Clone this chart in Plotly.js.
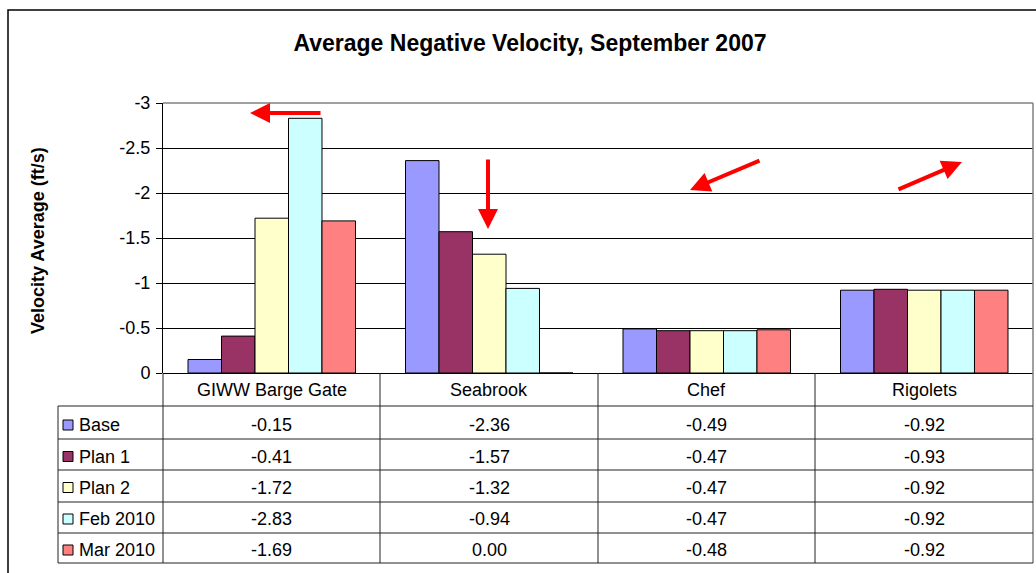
<!DOCTYPE html>
<html>
<head>
<meta charset="utf-8">
<script src="https://cdn.plot.ly/plotly-3.0.1.min.js"></script>
<style>
html,body{margin:0;padding:0;background:#fff;}
#chart{width:1036px;height:573px;}
</style>
</head>
<body>
<div id="chart"></div>
<script>
// ---- data ----
var categories = ['GIWW Barge Gate', 'Seabrook', 'Chef', 'Rigolets'];
var seriesNames = ['Base', 'Plan 1', 'Plan 2', 'Feb 2010', 'Mar 2010'];
var base    = [-0.15, -2.36, -0.49, -0.92];
var plan1   = [-0.41, -1.57, -0.47, -0.93];
var plan2   = [-1.72, -1.32, -0.47, -0.92];
var feb2010 = [-2.83, -0.94, -0.47, -0.92];
var mar2010 = [-1.69,  0.00, -0.48, -0.92];
var yTickVals = [0, -0.5, -1, -1.5, -2, -2.5, -3];
var yTickText = ['0', '-0.5', '-1', '-1.5', '-2', '-2.5', '-3'];

var seriesValues = [base, plan1, plan2, feb2010, mar2010];
var colors = ['#9999FF', '#993366', '#FFFFCC', '#CCFFFF', '#FF8080'];

// ---- geometry helpers (pixel -> paper) ----
var L = 163, T = 103, W = 870, H = 270;
function px(p) { return (p - L) / W; }
function py(p) { return (T + H - p) / H; }

var FONT = 'Liberation Sans, Arial, sans-serif';
var FS = 18;

var traces = seriesValues.map(function (vals, i) {
  return {
    type: 'bar',
    name: seriesNames[i],
    x: categories,
    y: vals,
    marker: { color: colors[i], line: { color: '#000', width: 1 } },
    hoverinfo: 'none'
  };
});

var shapes = [];
var annotations = [];

// outer frame
shapes.push({ type: 'rect', xref: 'paper', yref: 'paper', x0: px(8), x1: px(1045), y0: py(10), y1: py(585), line: { color: '#000', width: 1.5 } });
// plot area top & right border (grey)
shapes.push({ type: 'line', xref: 'paper', yref: 'paper', x0: px(163), x1: px(1033), y0: py(103), y1: py(103), line: { color: '#808080', width: 1.5 } });
shapes.push({ type: 'line', xref: 'paper', yref: 'paper', x0: px(1033), x1: px(1033), y0: py(103), y1: py(563), line: { color: '#808080', width: 1.5 } });

// table geometry
var rowLines = [406, 439, 470, 502, 533, 563];
var colLines = [380, 598, 815];
rowLines.forEach(function (r) {
  shapes.push({ type: 'line', xref: 'paper', yref: 'paper', x0: px(58), x1: px(1033), y0: py(r), y1: py(r), line: { color: '#222', width: 1 } });
});
shapes.push({ type: 'line', xref: 'paper', yref: 'paper', x0: px(58), x1: px(58), y0: py(406), y1: py(563), line: { color: '#222', width: 1 } });
shapes.push({ type: 'line', xref: 'paper', yref: 'paper', x0: px(163), x1: px(163), y0: py(373), y1: py(563), line: { color: '#222', width: 1 } });
colLines.forEach(function (c) {
  shapes.push({ type: 'line', xref: 'paper', yref: 'paper', x0: px(c), x1: px(c), y0: py(373), y1: py(563), line: { color: '#222', width: 1 } });
});

// category header row
categories.forEach(function (c) {
  annotations.push({ xref: 'x', yref: 'paper', x: c, y: py(390), text: c, showarrow: false, xanchor: 'center', yanchor: 'middle', font: { family: FONT, size: FS, color: '#000' } });
});

// data rows with legend keys
var rowCenters = [425, 456.5, 487.5, 519, 550];
seriesNames.forEach(function (name, i) {
  var yc = rowCenters[i];
  shapes.push({ type: 'rect', xref: 'paper', yref: 'paper', x0: px(63), x1: px(73), y0: py(yc - 5), y1: py(yc + 5), fillcolor: colors[i], line: { color: '#000', width: 1 } });
  annotations.push({ xref: 'paper', yref: 'paper', x: px(77), y: py(yc), text: name, showarrow: false, xanchor: 'left', yanchor: 'middle', font: { family: FONT, size: FS, color: '#000' } });
  seriesValues[i].forEach(function (v, j) {
    annotations.push({ xref: 'x', yref: 'paper', x: categories[j], y: py(yc), text: v.toFixed(2), showarrow: false, xanchor: 'center', yanchor: 'middle', font: { family: FONT, size: FS, color: '#000' } });
  });
});

// y-axis title
annotations.push({ xref: 'paper', yref: 'paper', x: px(38), y: py(241), text: '<b>Velocity Average (ft/s)</b>', textangle: -90, showarrow: false, xanchor: 'center', yanchor: 'middle', font: { family: FONT, size: FS, color: '#000' } });

// red arrows
var arrows = [
  { hx: 250, hy: 113, ax: 72, ay: 0 },
  { hx: 488, hy: 229, ax: 0, ay: -71 },
  { hx: 690, hy: 190, ax: 71, ay: -30 },
  { hx: 962, hy: 162, ax: -65, ay: 28 }
];
arrows.forEach(function (a) {
  annotations.push({ xref: 'paper', yref: 'paper', x: px(a.hx), y: py(a.hy), ax: a.ax, ay: a.ay, text: '', showarrow: true, arrowhead: 2, arrowsize: 1, arrowwidth: 4, arrowcolor: '#FF0000', standoff: 0 });
});

var layout = {
  width: 1036, height: 573,
  margin: { l: L, r: 1036 - L - W, t: T, b: 573 - T - H, pad: 0 },
  paper_bgcolor: '#fff', plot_bgcolor: '#fff',
  showlegend: false,
  barmode: 'group', bargap: 0.23, bargroupgap: 0,
  font: { family: FONT, size: FS, color: '#000' },
  title: { text: '<b>Average Negative Velocity, September 2007</b>', xref: 'container', yref: 'container', x: 530 / 1036, y: 1 - 43 / 573, xanchor: 'center', yanchor: 'middle', font: { family: FONT, size: 23, color: '#000' } },
  xaxis: { type: 'category', showticklabels: false, ticks: '', showline: false, showgrid: false, zeroline: false, fixedrange: true },
  yaxis: {
    range: [0, -3], tickvals: yTickVals, ticktext: yTickText,
    ticks: 'outside', ticklen: 6, tickcolor: '#000', tickwidth: 1,
    showline: true, linecolor: '#000', linewidth: 1,
    showgrid: true, gridcolor: '#000', gridwidth: 1,
    zeroline: true, zerolinecolor: '#000', zerolinewidth: 1,
    tickfont: { family: FONT, size: FS, color: '#000' },
    ticklabelstandoff: 2,
    fixedrange: true
  },
  shapes: shapes,
  annotations: annotations
};

Plotly.newPlot('chart', traces, layout, { staticPlot: true, displayModeBar: false });
</script>
</body>
</html>
